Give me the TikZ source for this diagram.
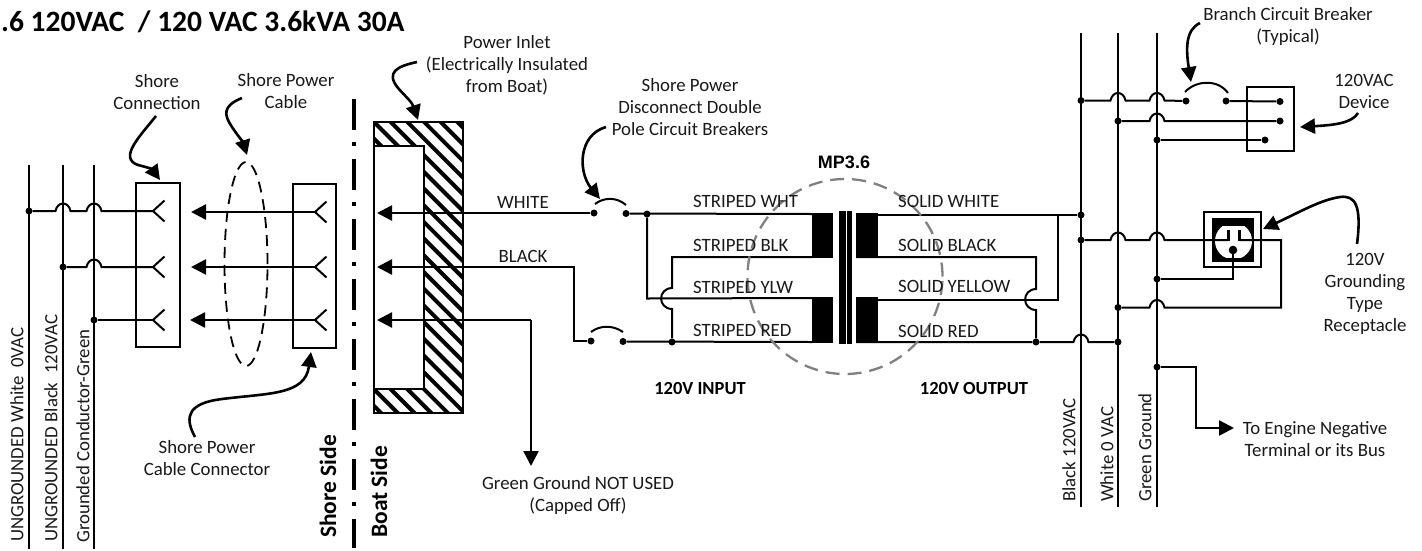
\documentclass[tikz,border=0pt]{standalone}
\usepackage{fontspec}
\setmainfont{Carlito}
\newfontfamily\arialb{Liberation Sans}[Scale=1.0]
\usetikzlibrary{arrows.meta,shapes.geometric}
\begin{document}
\begin{tikzpicture}[x=1pt,y=-1pt,
  wire/.style={line width=2pt,black},
  callout/.style={line width=2.6pt,black,-{Triangle[length=15pt,width=15pt]}},
  feed/.style={line width=2.5pt,black,-{Triangle[length=15pt,width=15pt]}},
  boxs/.style={draw,line width=2pt,black,fill=none},
  dotn/.style={circle,fill=black,inner sep=0pt,minimum size=7pt},
  lbl/.style={font=\fontsize{18.8}{22}\selectfont,align=center,inner sep=0pt,text=black!90},
  lblw/.style={font=\fontsize{18.8}{22}\selectfont,anchor=west,inner sep=0pt,text=black!90},
  rot/.style={font=\fontsize{18.8}{22}\selectfont,rotate=90,anchor=west,inner sep=0pt,text=black!90},
  rotb/.style={font=\fontsize{23.5}{28}\selectfont\bfseries,rotate=90,anchor=west,inner sep=0pt},
  bl/.style={font=\fontsize{18.5}{22}\selectfont\bfseries,inner sep=0pt},
]
\def\jmp#1#2{-- (#1-7.5,#2) .. controls (#1-5.5,#2-10) and (#1+5.5,#2-10) .. (#1+7.5,#2)}
\def\vjmp#1#2{-- (#1,#2-10.5) .. controls (#1-14.5,#2-10) and (#1-14.5,#2+10) .. (#1,#2+10.5)}
\def\fork#1#2#3{\draw[wire] (#1+11.5,#2-10.5) -- (#1,#2) -- (#1+11.5,#2+10.5);}
\useasboundingbox (0,0) rectangle (1422,550);
\fill[white] (0,0) rectangle (1422,550);

% title
\node[anchor=west,inner sep=0pt,font=\fontsize{29.5}{34}\selectfont\bfseries] (title) at (1,22) {.6 120VAC\ \ / 120 VAC 3.6kVA 30A};

% ---- left bus
\coordinate (L1t) at (29,165); \coordinate (L1b) at (29,549);
\coordinate (L2t) at (63,165); \coordinate (L2b) at (63,549);
\coordinate (L3t) at (94,165); \coordinate (L3b) at (94,549);
\draw[wire] (L1t)--(L1b); \draw[wire] (L2t)--(L2b); \draw[wire] (L3t)--(L3b);
\node[dotn] (d1) at (29,211) {};
\node[dotn] (d2) at (63,267) {};
\node[dotn] (d3) at (94,320) {};

% boxes
\node[boxs,minimum width=44pt,minimum height=164pt,inner sep=0pt] (sc) at (158,265) {};
\node[boxs,minimum width=43pt,minimum height=164pt,inner sep=0pt] (sp) at (314.5,266) {};
\coordinate (f1) at (153,211); \coordinate (f2) at (153,267); \coordinate (f3) at (153,320);
\draw[wire] (d1) \jmp{63}{211} \jmp{94}{211} -- (f1);
\draw[wire] (d2) \jmp{94}{267} -- (f2);
\draw[wire] (d3) -- (f3);
\fork{153}{211}{} \fork{153}{267}{} \fork{153}{320}{}
\coordinate (g1) at (315,212); \coordinate (g2) at (315,267); \coordinate (g3) at (315,320);
\fork{315}{212}{} \fork{315}{267}{} \fork{315}{320}{}
\coordinate (t1) at (191,212); \coordinate (t2) at (191,267); \coordinate (t3) at (190,320);
\draw[feed] (g1)--(t1); \draw[feed] (g2)--(t2); \draw[feed] (g3)--(t3);

% cable ellipse
\node[draw,ellipse,line width=1.8pt,dash pattern=on 11pt off 7pt,minimum width=43pt,minimum height=204pt,inner sep=0pt] (cab) at (246,264) {};

% divider
\coordinate (divt) at (354,99); \coordinate (divb) at (354,548);
\draw[line width=3.5pt,dash pattern=on 31pt off 12pt on 4pt off 13pt] (divt)--(divb);

\node[rotb] (ss) at (328,538) {Shore Side};
\node[rotb] (bs) at (379,538) {Boat Side};

% inlet
\begin{scope}
\clip (374,122) rectangle (463,413);
\foreach \k in {-20,...,30}{
  \draw[line width=4pt] (374+\k*16.7-10,112) -- ++(320,320);
}
\end{scope}
\fill[white] (374,146) rectangle (424,389);
\draw[line width=2.4pt] (374,122) rectangle (463,413);
\draw[line width=2.4pt] (374,146) -- (424,146) -- (424,389) -- (374,389);

% outputs from inlet
\node[dotn] (bw1) at (594,213) {};
\node[dotn] (bw2) at (626,213.5) {};
\node[dotn] (bb1) at (591,341) {};
\node[dotn] (bb2) at (623,341.5) {};
\coordinate (iw) at (377,213); \coordinate (ib) at (377,267); \coordinate (ig) at (377,320);
\coordinate (gc) at (531,320);
\draw[feed] (bw1)--(iw);
\draw[feed] (bb1) -- (574,341) -- (574,267) -- (ib);
\coordinate (gnd) at (531,466);
\draw[feed] (gc) -- (ig);
\draw[feed] (gc) -- (gnd);
\draw[wire] (595,204) .. controls (604,197) and (617,197) .. (626,205);
\draw[wire] (591,332) .. controls (600,325) and (613,325) .. (623,332);

% primary
\node[dotn] (jw) at (647,214) {};
\node[dotn] (jr) at (672,342) {};
\coordinate (pt) at (812,214); \coordinate (pb) at (812,257);
\coordinate (pc) at (812,298); \coordinate (pd) at (812,342);
\draw[wire] (bw2)--(pt);
\draw[wire] (bb2)--(pd);
\draw[wire] (jw)--(647,298.5)--(pc);
\draw[wire] (pb)--(672,257) \vjmp{672}{298.5} -- (jr);
\fill (812,213) rectangle (833,258);
\fill (812,297) rectangle (833,343);
\fill (839.3,211) rectangle (845.7,343.5);
\fill (847,211) rectangle (852,343.5);
\fill (856,213) rectangle (878,258);
\fill (856,297) rectangle (878,343);

% secondary
\node[dotn] (rw) at (1081,215) {};
\node[dotn] (rb) at (1036,342) {};
\draw[wire] (856,215)--(rw);
\draw[wire] (856,257)--(1036,257) \vjmp{1036}{299.5} -- (rb);
\draw[wire] (856,299.5)--(1058,299.5)--(1058,215);
\node[dotn] (rw2) at (1118,342) {};
\draw[wire] (856,342) -- (rb) \jmp{1081}{342} -- (rw2);

% transformer circle
\node[draw=black!50,circle,line width=2.3pt,dash pattern=on 14pt off 8pt,minimum size=195pt,inner sep=0pt] (mp) at (845,276.5) {};

% right bus
\coordinate (R1t) at (1081,33); \coordinate (R1b) at (1081,507);
\coordinate (R2t) at (1118,33); \coordinate (R2b) at (1118,507);
\coordinate (R3t) at (1157,33); \coordinate (R3b) at (1157,507);
\draw[wire] (R1t)--(R1b); \draw[wire] (R2t)--(R2b); \draw[wire] (R3t)--(R3b);

% branch device
\node[draw,line width=2.2pt,minimum width=47pt,minimum height=64pt,inner sep=0pt] (dev) at (1270.5,119) {};
\node[dotn] (a1) at (1081,100.5) {};
\node[dotn] (a2) at (1186,101) {};
\node[dotn] (a3) at (1226,101) {};
\node[dotn] (a4) at (1280,101.5) {};
\node[dotn] (b1) at (1118,121) {};
\node[dotn] (b2) at (1280,121) {};
\node[dotn] (c1) at (1157,140) {};
\node[dotn] (c2) at (1265,140) {};
\draw[wire] (a1) \jmp{1118}{100.5} \jmp{1157}{100.5} -- (a2);
\draw[wire] (a3)--(a4);
\draw[wire] (1185,92) .. controls (1196,80) and (1218,79) .. (1228,93);
\draw[wire] (b1) \jmp{1157}{121} -- (b2);
\draw[wire] (c1)--(c2);

% receptacle
\node[dotn] (e1) at (1081,240) {};
\node[dotn] (e2) at (1157,279) {};
\node[dotn] (e3) at (1118,307.5) {};
\draw[line width=2.4pt] (1204,212) rectangle (1261,267);
\fill (1212,218) rectangle (1254,262);
\begin{scope}
\clip (1212,226.5) rectangle (1254,257);
\fill[white] (1233.5,241) circle[radius=18.5pt];
\end{scope}
\draw[wire] (e1) \jmp{1118}{240} \jmp{1157}{240} -- (1228,240);
\draw[line width=3pt] (1228,241) -- (1228,230);
\draw[line width=3pt] (1239.5,241) -- (1239.5,230);
\draw[wire] (1239.5,240) -- (1281,240) -- (1281,307.5) -- (1164.5,307.5) .. controls (1162.5,297.5) and (1151.5,297.5) .. (1149.5,307.5) -- (e3);
\fill (1233,250) circle[radius=4.3pt];
\draw[wire] (e2) -- (1233,279) -- (1233,250);

% ground tap
\node[dotn] (e4) at (1157,367) {};
\coordinate (eng) at (1234,428);
\draw[feed] (e4) -- (1196,367) -- (1196,428) -- (eng);

% callouts
\coordinate (cb1) at (156,116); \coordinate (cb2) at (160,180);
\draw[callout] (cb1) .. controls (140,136) and (118,158) .. (138,165) .. controls (146,167) and (152,169) .. (cb2);
\coordinate (cc1) at (242,98); \coordinate (cc2) at (247,155);
\draw[callout] (cc1) .. controls (222,106) and (224,115) .. (232,127) .. controls (238,136) and (243,142) .. (cc2);
\coordinate (cd1) at (195,437); \coordinate (cd2) at (311,352);
\draw[callout] (cd1) .. controls (183,415) and (190,403) .. (222,399) .. controls (270,393) and (305,395) .. (cd2);
\coordinate (ce1) at (417,62); \coordinate (ce2) at (418,120);
\draw[callout] (ce1) .. controls (398,66) and (385,72) .. (398,88) .. controls (405,96) and (412,102) .. (ce2);
\coordinate (cf1) at (606,127); \coordinate (cf2) at (600,199);
\draw[callout] (cf1) .. controls (578,135) and (578,172) .. (cf2);
\coordinate (cg1) at (1200,23); \coordinate (cg2) at (1191,82);
\draw[callout] (cg1) .. controls (1185,30) and (1186,50) .. (cg2);
\coordinate (ch1) at (1358,113); \coordinate (ch2) at (1300,127);
\draw[callout] (ch1) .. controls (1352,123) and (1335,125) .. (ch2);
\coordinate (ci1) at (1357,244); \coordinate (ci2) at (1263,229);
\draw[callout] (ci1) .. controls (1362,205) and (1355,195) .. (1340,197) .. controls (1320,200) and (1300,212) .. (ci2);

% labels
\node[lbl] (n1) at (157,92) {Shore\\Connection};
\node[lbl] (n2) at (286,91) {Shore Power\\Cable};
\node[lbl] (n3) at (207,458.5) {Shore Power\\Cable Connector};
\node[lbl] (n4) at (507,65) {Power Inlet\\(Electrically Insulated\\from Boat)};
\node[lbl] (n5) at (690,107) {Shore Power\\Disconnect Double\\Pole Circuit Breakers};
\node[lbl] (n6) at (523,202) {WHITE};
\node[lbl] (n7) at (523,256) {BLACK};
\node[lbl] (n8) at (578,495) {Green Ground NOT USED\\(Capped Off)};
\node[lblw] (s1) at (693,201) {STRIPED WHT};
\node[lblw] (s2) at (693,245) {STRIPED BLK};
\node[lblw] (s3) at (693,287) {STRIPED YLW};
\node[lblw] (s4) at (693,330) {STRIPED RED};
\node[lblw] (o1) at (898,201) {SOLID WHITE};
\node[lblw] (o2) at (898,245) {SOLID BLACK};
\node[lblw] (o3) at (898,286) {SOLID YELLOW};
\node[lblw] (o4) at (898,331) {SOLID RED};
\node[font=\arialb\bfseries\fontsize{18}{21}\selectfont,inner sep=0pt] (mpl) at (844,162) {MP3.6};
\node[bl] (in) at (700,388) {120V INPUT};
\node[bl] (out) at (974,388) {120V OUTPUT};
\node[rot] (r1) at (17,542) {UNGROUNDED White\ \ 0VAC};
\node[rot] (r2) at (51,542) {UNGROUNDED Black\ \ 120VAC};
\node[rot] (r3) at (83,543) {Grounded Conductor-Green};
\node[rot] (r4) at (1069,502) {Black 120VAC};
\node[rot] (r5) at (1107,502) {White 0 VAC};
\node[rot] (r6) at (1145,502) {Green Ground};
\node[lbl] (n9) at (1288,26) {Branch Circuit Breaker\\(Typical)};
\node[lbl] (n10) at (1364,91) {120VAC\\Device};
\node[lbl] (n11) at (1365,293.5) {120V\\Grounding\\Type\\Receptacle};
\node[lbl] (n12) at (1315,439.5) {To Engine Negative\\Terminal or its Bus};
\end{tikzpicture}
\end{document}
